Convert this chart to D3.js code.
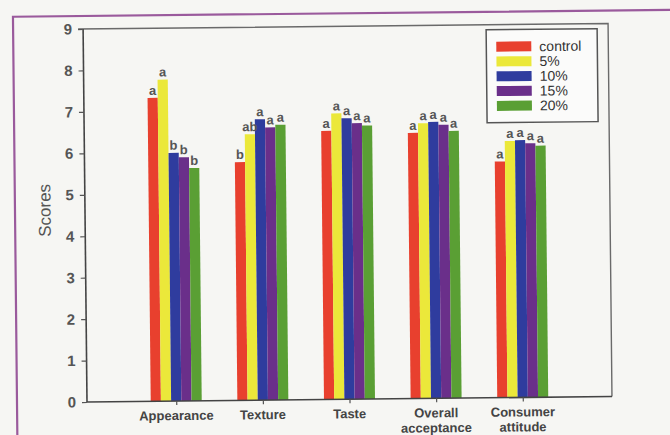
<!DOCTYPE html>
<html>
<head>
<meta charset="utf-8">
<script src="https://cdn.jsdelivr.net/npm/d3@7"></script>
<style>
  body { margin: 0; background: #f6f6f3; }
  svg  { display: block; }
</style>
</head>
<body>
<div id="chart"></div>
<script>
// ---------------------------------------------------------------------------
// Data
// ---------------------------------------------------------------------------
const categories = ['Appearance', 'Texture', 'Taste', 'Overall acceptance', 'Consumer attitude'];
const series     = ['control', '5%', '10%', '15%', '20%'];
const colors     = ['#e8402e', '#ebe83a', '#2f3c9e', '#6a2f8a', '#5a9f34'];

const controlScores = [7.32, 5.75, 6.48, 6.41, 5.70];
const pct5Scores    = [7.76, 6.42, 6.90, 6.64, 6.19];
const pct10Scores   = [5.99, 6.78, 6.78, 6.67, 6.21];
const pct15Scores   = [5.88, 6.58, 6.66, 6.60, 6.13];
const pct20Scores   = [5.62, 6.64, 6.60, 6.45, 6.07];

const controlLetters = ['a', 'b',  'a', 'a', 'a'];
const pct5Letters    = ['a', 'ab', 'a', 'a', 'a'];
const pct10Letters   = ['b', 'a',  'a', 'a', 'a'];
const pct15Letters   = ['b', 'a',  'a', 'a', 'a'];
const pct20Letters   = ['b', 'a',  'a', 'a', 'a'];

const yTicks = [0, 1, 2, 3, 4, 5, 6, 7, 8, 9];

const scores  = [controlScores, pct5Scores, pct10Scores, pct15Scores, pct20Scores];
const letters = [controlLetters, pct5Letters, pct10Letters, pct15Letters, pct20Letters];

// ---------------------------------------------------------------------------
// Layout
// ---------------------------------------------------------------------------
const W = 670, H = 435;
const plotL = 87, plotR = 612, plotT = 29, plotB = 402;
const font = "'Liberation Sans', Arial, sans-serif";

const svg = d3.select('#chart').append('svg')
    .attr('width', W)
    .attr('height', H)
    .attr('viewBox', `0 0 ${W} ${H}`);

// the scan is slightly tilted, so everything sits in one rotated group
const g = svg.append('g').attr('transform', `rotate(-0.6, ${plotL}, ${plotB})`);

// purple frame of the page
g.append('rect')
    .attr('x', 17).attr('y', 16)
    .attr('width', 720).attr('height', 520)
    .attr('fill', 'none')
    .attr('stroke', '#9a5a9c')
    .attr('stroke-width', 2.2);

const x = d3.scalePoint()
    .domain(categories)
    .range([plotL, plotR])
    .padding(1.03)
    .align(0.5);

const xs = d3.scaleBand()
    .domain(series)
    .range([-25.5, 25.5])
    .paddingInner(0);

const y = d3.scaleLinear()
    .domain([0, 9])
    .range([plotB, plotT]);

// ── Frame (top + right) ────────────────────────────────────────────────────
g.append('path')
    .attr('d', `M ${plotL - 5} ${plotT} H ${plotR} V ${plotB}`)
    .attr('fill', 'none')
    .attr('stroke', '#6a6a6a')
    .attr('stroke-width', 1.4);

// ── Bars ───────────────────────────────────────────────────────────────────
const rows = [];
series.forEach((s, si) => {
    categories.forEach((c, ci) => {
        rows.push({ cat: c, ser: s, si, value: scores[si][ci], letter: letters[si][ci] });
    });
});

g.append('g').selectAll('rect')
    .data(rows)
    .join('rect')
    .attr('x',      d => x(d.cat) + xs(d.ser))
    .attr('y',      d => y(d.value))
    .attr('width',  xs.bandwidth())
    .attr('height', d => y(0) - y(d.value))
    .attr('fill',   d => colors[d.si]);

g.append('g').selectAll('text')
    .data(rows)
    .join('text')
    .attr('x', d => x(d.cat) + xs(d.ser) + xs.bandwidth() / 2)
    .attr('y', d => y(d.value) - 3)
    .attr('text-anchor', 'middle')
    .attr('font-family', font)
    .attr('font-size', 13)
    .attr('font-weight', 'bold')
    .attr('fill', '#555')
    .text(d => d.letter);

// ── Axes ───────────────────────────────────────────────────────────────────
const yAxis = g.append('g')
    .attr('transform', `translate(${plotL},0)`)
    .call(d3.axisLeft(y).tickValues(yTicks).tickFormat(d3.format('d')).tickSize(5).tickPadding(6));

const xAxis = g.append('g')
    .attr('transform', `translate(0,${plotB})`)
    .call(d3.axisBottom(x).tickSize(4).tickFormat(''));

[yAxis, xAxis].forEach(a => {
    a.select('.domain').attr('stroke', '#444').attr('stroke-width', 1.6);
    a.selectAll('.tick line').attr('stroke', '#555').attr('stroke-width', 1.2);
});
yAxis.select('.domain').attr('d', `M0,${plotT}V${plotB}`);
xAxis.select('.domain').attr('d', `M${plotL},0H${plotR}`);

yAxis.selectAll('.tick text')
    .attr('font-family', font)
    .attr('font-size', 15)
    .attr('font-weight', 'bold')
    .attr('fill', '#555');

// category labels, split on the space into two lines where needed
const catLabels = g.append('g')
    .selectAll('text')
    .data(categories)
    .join('text')
    .attr('x', d => x(d))
    .attr('y', plotB + 19)
    .attr('text-anchor', 'middle')
    .attr('font-family', font)
    .attr('font-size', 13)
    .attr('font-weight', 'bold')
    .attr('fill', '#444');

catLabels.each(function (d) {
    const parts = d.split(' ');
    d3.select(this).selectAll('tspan')
        .data(parts)
        .join('tspan')
        .attr('x', x(d))
        .attr('dy', (p, i) => i === 0 ? 0 : 15)
        .text(p => p);
});

// y-axis title
g.append('text')
    .attr('transform', `translate(47,210) rotate(-90)`)
    .attr('text-anchor', 'middle')
    .attr('dominant-baseline', 'central')
    .attr('font-family', font)
    .attr('font-size', 17)
    .attr('fill', '#555')
    .text('Scores');

// ── Legend ─────────────────────────────────────────────────────────────────
const legend = g.append('g').attr('transform', 'translate(490,34)');

legend.append('rect')
    .attr('width', 111).attr('height', 93)
    .attr('fill', '#fbfbfa')
    .attr('stroke', '#555')
    .attr('stroke-width', 1.5);

const item = legend.selectAll('g.item')
    .data(series)
    .join('g')
    .attr('class', 'item')
    .attr('transform', (d, i) => `translate(10,${17 + i * 14.8})`);

item.append('rect')
    .attr('y', -5).attr('width', 35).attr('height', 10)
    .attr('fill', (d, i) => colors[i]);

item.append('text')
    .attr('x', 43)
    .attr('dy', '0.35em')
    .attr('font-family', font)
    .attr('font-size', 14)
    .attr('fill', '#333')
    .text(d => d);
</script>
</body>
</html>
